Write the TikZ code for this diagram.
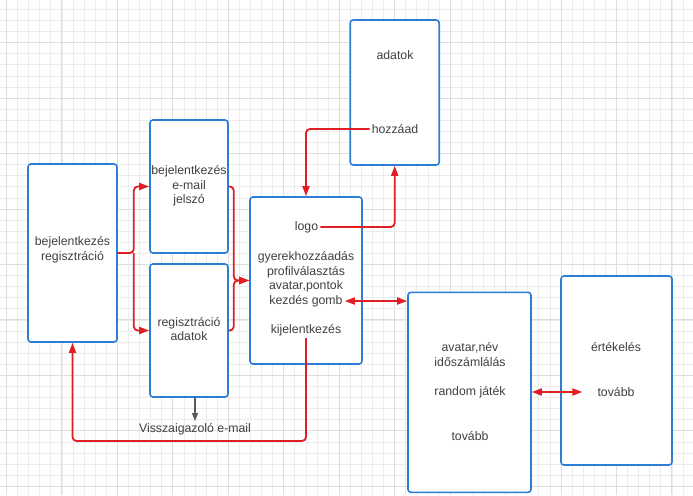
\documentclass[tikz,border=0pt]{standalone}
\usepackage{fontspec}
\setmainfont{Liberation Sans}
\usepackage{tikz}
\usetikzlibrary{arrows.meta}
\usetikzlibrary{calc}
\definecolor{keret}{RGB}{45,125,215}
\definecolor{piros}{RGB}{225,30,35}
\definecolor{szoveg}{RGB}{64,64,64}
\definecolor{racs}{RGB}{236,236,236}
\definecolor{racsfo}{RGB}{222,222,222}
\definecolor{szurke}{RGB}{90,90,90}

\begin{document}
\begin{tikzpicture}[x=1pt,y=-1pt,
    doboz/.style={draw=keret,line width=1.6pt,rounded corners=3pt,fill=white},
    felirat/.style={text=szoveg,align=center,inner sep=2pt,
                    font=\fontsize{12.3}{14.7}\selectfont},
    nyil/.style={draw=piros,line width=1.8pt,rounded corners=4pt,
                 -{Triangle[length=10pt,width=7pt]}},
    ketnyil/.style={nyil,{Triangle[length=10pt,width=7pt]}-{Triangle[length=10pt,width=7pt]}}]
  \useasboundingbox (0,0) rectangle (693,495);
  % racs
  \fill[white] (0,0) rectangle (693,495);
  \foreach \i in {0,...,62}
    \draw[racs,line width=0.8pt] ({6.5+11.09*\i},0) -- ++(0,495);
  \foreach \j in {-3,...,40}
    \draw[racs,line width=0.8pt] (0,{42.7+11.09*\j}) -- ++(693,0);
  \foreach \i in {0,...,12}
    \draw[racsfo,line width=1pt] ({6.5+55.45*\i},0) -- ++(0,495);
  \foreach \j in {0,...,8}
    \draw[racsfo,line width=1pt] (0,{42.7+55.45*\j}) -- ++(693,0);

  % dobozok
  \node[doboz,minimum width=89,minimum height=178] (belep) at (72.5,253) {};
  \node[doboz,minimum width=78,minimum height=133] (bejel) at (189,186.5) {};
  \node[doboz,minimum width=78,minimum height=133] (regadat) at (189,330.5) {};
  \node[doboz,minimum width=112,minimum height=167] (fo) at (306,280.5) {};
  \node[doboz,minimum width=89,minimum height=145] (adat) at (394.7,92.5) {};
  \node[doboz,minimum width=123,minimum height=200] (jatek) at (469.5,392.3) {};
  \node[doboz,minimum width=111,minimum height=189] (ert) at (616.5,370.5) {};

  % feliratok
  \node[felirat] (belepsz) at (72.5,250) {bejelentkezés\\regisztráció};
  \node[felirat] (bejelsz) at (189,186) {bejelentkezés\\e-mail\\jelszó};
  \node[felirat] (regsz) at (189,329) {regisztráció\\adatok};
  \node[felirat] (logo) at (306.5,227) {logo};
  \node[felirat] (menu) at (306,272) {gyerekhozzáadás\\profilválasztás\\avatar,pontok};
  \node[felirat] (kezd) at (306,301) {kezdés gomb};
  \node[felirat] (kijel) at (306,330) {kijelentkezés};
  \node[felirat] (adatsz) at (395,55) {adatok};
  \node[felirat] (hozzaad) at (395,129) {hozzáad};
  \node[felirat] (avatar) at (470,354.5) {avatar,név\\időszámlálás};
  \node[felirat] (random) at (470,392) {random játék};
  \node[felirat] (tovabbj) at (470,436) {tovább};
  \node[felirat] (ertsz) at (616,347) {értékelés};
  \node[felirat] (tovabbe) at (616,392) {tovább};
  \node[felirat] (vissza) at (195,429) {Visszaigazoló e-mail};
  \coordinate (kanyar) at (72.5,441);

  % nyilak
  \draw[nyil] (belep.east) -- ++(16,0) coordinate (elag) |- (bejel.west);
  \draw[nyil] (elag) |- (regadat.west);
  \draw[nyil] (bejel.east) -- ++(5,0) |- (fo.west);
  \draw[nyil] (regadat.east) -- ++(5,0) |- (fo.west);
  \draw[nyil] (logo.east) -| (adat.south);
  \draw[nyil] (hozzaad.west) -| (fo.north);
  \draw[ketnyil] (kezd.east) -- (kezd.east -| jatek.west);
  \draw[nyil] (kijel.south) |- (kanyar) -- (belep.south);
  \draw[ketnyil,shorten >=13pt] (jatek.east |- random) -- (tovabbe.west);
  \draw[szurke,line width=1.2pt,-{Triangle[length=8pt,width=6pt]}]
    (vissza.north |- regadat.south) -- (vissza.north);
\end{tikzpicture}
\end{document}
